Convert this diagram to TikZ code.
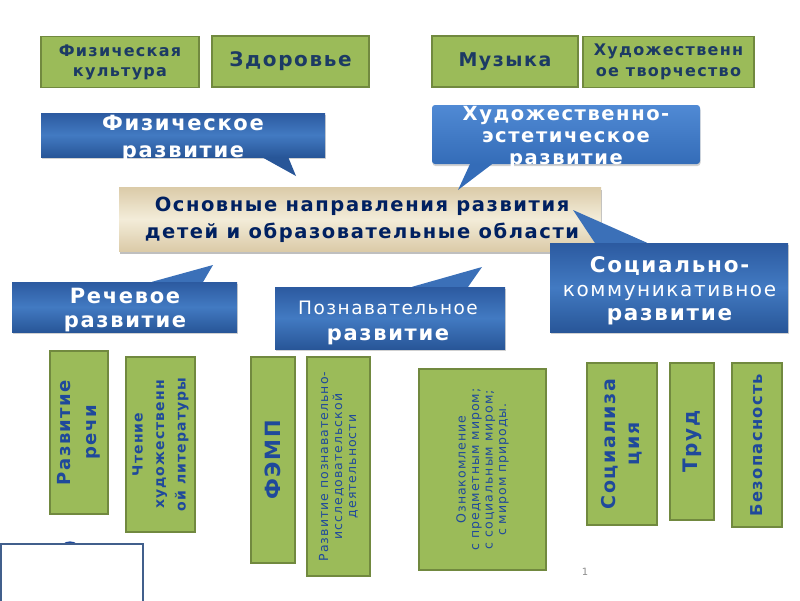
\documentclass[tikz,border=0pt]{standalone}
\usepackage{fontspec}
\setmainfont{DejaVu Sans}
\newfontfamily\dvs[LetterSpace=8]{DejaVu Sans}
\usetikzlibrary{calc,shadows}
\definecolor{cGrn}   {RGB}{155,187,89}
\definecolor{cGrnBd} {RGB}{113,137,63}
\definecolor{cTopTxt}{RGB}{28,58,100}
\definecolor{cVTxt}  {RGB}{31,73,155}
\definecolor{cBlueT} {RGB}{44,90,160}
\definecolor{cBlueM} {RGB}{66,122,194}
\definecolor{cBlueB} {RGB}{40,86,152}
\definecolor{cSkyT}  {RGB}{80,138,212}
\definecolor{cSkyB}  {RGB}{52,108,184}
\definecolor{cBeige} {RGB}{219,203,168}
\definecolor{cBeigeM}{RGB}{243,236,217}
\definecolor{cNavy}  {RGB}{0,32,96}
\definecolor{cFrame} {RGB}{65,95,140}
\newcommand{\fs}[2]{\fontsize{#1}{#2}\selectfont}
\tikzset{
  area/.style={draw=cGrnBd,line width=1.6pt,fill=cGrn,inner sep=0pt,align=center},
  topbox/.style={area,text=cTopTxt},
  vbox/.style={area,rotate=90,text=cVTxt},          % rotated subject box
  bubble/.style={inner sep=0pt,top color=cBlueT,bottom color=cBlueB,middle color=cBlueM,
                 drop shadow={shadow xshift=0.5pt,shadow yshift=-2pt,fill=black!45,opacity=.4}},
  skybubble/.style={bubble,top color=cSkyT,bottom color=cSkyB,rounded corners=3pt},
  tailT/.style={fill=cBlueM!70!cBlueT},             % tail above the box
  tailB/.style={fill=cBlueB},                       % tail below the box
  btext/.style={text=white,align=center,inner sep=0pt},
}
\begin{document}
\begin{tikzpicture}[x=1pt,y=-1pt]
  \useasboundingbox (0,0) rectangle (800,600);
  % top row of subjects
  \node[topbox,minimum width=158pt,minimum height=51pt,font=\dvs\bfseries\fs{16}{20}] (fizk) at (120,62)
    {Физическая\\культура};
  \node[topbox,minimum width=157pt,minimum height=51pt,font=\dvs\bfseries\fs{20}{24}] (zdor) at (290.5,61.5)
    {Здоровье};
  \node[topbox,minimum width=146pt,minimum height=51pt,font=\dvs\bfseries\fs{19}{23}] (muz) at (505,61.5)
    {Музыка};
  \node[topbox,minimum width=171pt,minimum height=51pt,font=\dvs\bfseries\fs{16}{21}] (hudtv) at (668.5,62)
    {Художественн\\ое творчество};
  % central box
  \node[inner sep=0pt,minimum width=482pt,minimum height=64pt,
        top color=cBeige,bottom color=cBeige,middle color=cBeigeM,
        drop shadow={shadow xshift=0.5pt,shadow yshift=-3pt,fill=black!50,opacity=.5}] (main) at (360,219){};
  \node[align=center,inner sep=0pt,text=cNavy,font=\dvs\bfseries\fs{19.5}{27.5}] (mainT) at (362,220)
    {Основные направления развития\\детей и образовательные области};
  % callouts with their tails
  \coordinate (physTip) at (296,176);
  \coordinate (artTip)  at (458,190);
  \coordinate (socTip)  at (573,210);
  \coordinate (rechTip) at (213,265);
  \coordinate (poznTip) at (482,267);
  \node[bubble,minimum width=284pt,minimum height=44pt] (phys) at (183,135){};
  \fill[tailB] ($(phys.south west)!0.778!(phys.south east)$) -- (physTip)
               -- ($(phys.south west)!0.87!(phys.south east)$) -- cycle;
  \node[btext,font=\dvs\bfseries\fs{21}{27}] (physT) at (183,138.5){Физическое\\развитие};
  \node[skybubble,minimum width=268pt,minimum height=59pt] (art) at (566,134.5){};
  \fill[cSkyB] ($(art.south west)!0.142!(art.south east)$) -- (artTip)
               -- ($(art.south west)!0.224!(art.south east)$) -- cycle;
  \node[btext,font=\dvs\bfseries\fs{19.5}{22}] (artT) at (566,137){Художественно-\\эстетическое\\развитие};
  \node[bubble,minimum width=238pt,minimum height=89pt] (soc) at (669,287.5){};
  \fill[tailT] ($(soc.north west)!0.189!(soc.north east)$) -- (socTip)
               -- ($(soc.north west)!0.408!(soc.north east)$) -- cycle;
  \node[btext,font=\dvs\bfseries\fs{21.5}{24}] (socT) at (669.5,290.5)
    {Социально-\\{\mdseries\fs{20}{24}коммуникативное}\\развитие};
  \node[bubble,minimum width=225pt,minimum height=50pt] (rech) at (124.5,307){};
  \fill[tailT] ($(rech.north west)!0.622!(rech.north east)$) -- (rechTip)
               -- ($(rech.north west)!0.849!(rech.north east)$) -- cycle;
  \node[btext,font=\dvs\bfseries\fs{21}{24}] (rechT) at (125,310){Речевое\\развитие};
  \node[bubble,minimum width=230pt,minimum height=62pt] (pozn) at (390,318){};
  \fill[tailT] ($(pozn.north west)!0.596!(pozn.north east)$) -- (poznTip)
               -- ($(pozn.north west)!0.839!(pozn.north east)$) -- cycle;
  \node[btext,font=\dvs\bfseries\fs{21}{26}] (poznT) at (388,323)
    {{\mdseries\fs{18.5}{26}Познавательное}\\развитие};
  % vertical subject boxes
  \node[vbox,minimum width=163pt,minimum height=58pt,font=\dvs\bfseries\fs{18}{26}] (rr) at (79,432.5)
    {Развитие\\речи};
  \node[vbox,minimum width=175pt,minimum height=69pt,font=\dvs\bfseries\fs{14}{21.5}] (chl) at (160.5,444.5)
    {Чтение\\художественн\\ой литературы};
  \node[vbox,minimum width=206pt,minimum height=44pt,font=\dvs\bfseries\fs{21}{24}] (femp) at (273,460)
    {ФЭМП};
  \node[vbox,minimum width=219pt,minimum height=63pt,font=\dvs\fs{12.5}{14}] (pid) at (338.5,466.5)
    {Развитие познавательно-\\исследовательской\\деятельности};
  \node[vbox,minimum width=201pt,minimum height=127pt,font=\dvs\fs{12.5}{13.5}] (ozn) at (482.5,469.5)
    {Ознакомление\\с предметным миром;\\с социальным миром;\\с миром природы.};
  \node[vbox,minimum width=162pt,minimum height=70pt,font=\dvs\bfseries\fs{19}{24}] (socz) at (622,444)
    {Социализа\\ция};
  \node[vbox,minimum width=157pt,minimum height=44pt,font=\dvs\bfseries\fs{20}{24}] (trud) at (692,441.5)
    {Труд};
  \node[vbox,minimum width=164pt,minimum height=50pt,font=\dvs\bfseries\fs{16.3}{20}] (bez) at (757,445)
    {Безопасность};
  % frame in the corner and slide number
  \fill[cVTxt] (63,544) .. controls (66,540.5) and (74,540.5) .. (77,544) -- cycle;
  \draw[cFrame,line width=2pt] (1,610) -- (1,544) -- (143,544) -- (143,610);
  \node[text=black!45,font=\fs{10}{12}] (pg) at (585,572){1};
\end{tikzpicture}
\end{document}
